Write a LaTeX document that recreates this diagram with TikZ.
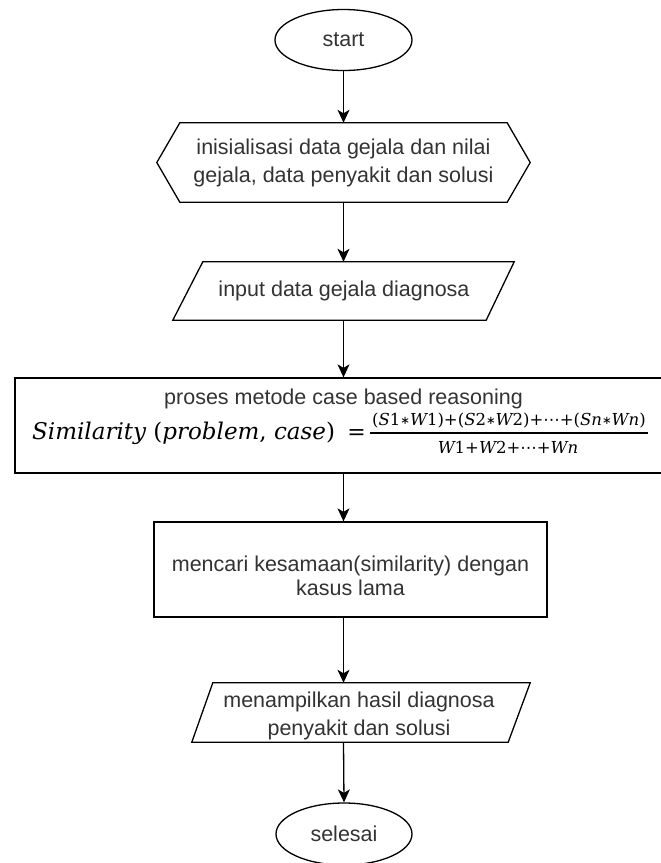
\documentclass[tikz,border=0pt]{standalone}
\usepackage{fontspec}
\setmainfont{Liberation Sans}
\newfontfamily\fser{DejaVu Serif}
\newfontfamily\fdvs{DejaVu Sans}
\usetikzlibrary{arrows.meta,shapes.geometric,calc}
\definecolor{txt}{HTML}{333333}
\newcommand{\mvar}[1]{{\itshape #1}}
\newcommand{\mast}{{\fdvs\fontsize{11.5}{12}\selectfont\raisebox{1pt}{∗}}}
\newcommand{\mdots}{{\fdvs ⋯}}
\begin{document}
\begin{tikzpicture}[x=1pt,y=-1pt,
  lbl/.style={font=\fontsize{21.5}{28}\selectfont, text=txt, align=center, inner sep=0pt},
  shp/.style={draw=black, line width=1.3pt},
  flow/.style={draw=black, line width=1.3pt, -{Stealth[length=13pt,width=12pt,inset=3.5pt]}},
  frm/.style={inner sep=0pt, text=black}]
\useasboundingbox (0,0) rectangle (661,863);
\fill[white] (0,0) rectangle (661,863);

% start
\node[shp, ellipse, lbl, minimum width=137pt, minimum height=61pt] (st) at (343.5,40) {start};

% hexagon
\node[lbl, minimum width=373pt, minimum height=79pt] (hx) at (343.5,162.5) {inisialisasi data gejala dan nilai\\gejala, data penyakit dan solusi};
\draw[shp] (hx.west) -- ($(hx.north west)+(23,0)$) -- ($(hx.north east)+(-23,0)$) -- (hx.east) -- ($(hx.south east)+(-23,0)$) -- ($(hx.south west)+(23,0)$) -- cycle;

% input
\node[lbl, minimum width=312pt, minimum height=58pt] (inp) at (344,291) {input data gejala diagnosa};
\draw[shp] ($(inp.north west)+(15,0)$) -- ($(inp.north east)+(14,0)$) -- ($(inp.south east)+(-14,0)$) -- ($(inp.south west)+(-15,0)$) -- cycle;

% process
\node[shp, rectangle, inner sep=0pt, minimum width=660pt, minimum height=95pt] (pr) at (345,425.5) {};
\node[lbl, anchor=base] (prt) at (343.5,404) {proses metode case based reasoning};
\node[frm, anchor=base west, font=\fser\fontsize{23}{26}\selectfont] (flhs) at (32,439) {\mvar{Similarity} (\mvar{problem}, \mvar{case})};
\node[frm, anchor=base, font=\fser\fontsize{22}{24}\selectfont] (feq) at (356.5,439) {=};
\node[frm, anchor=base, font=\fser\fontsize{16.5}{18}\selectfont] (fnum) at (509,425) {(\mvar{S}1\mast\mvar{W}1)+(\mvar{S}2\mast\mvar{W}2)+\mdots+(\mvar{Sn}\mast\mvar{Wn})};
\node[frm, anchor=base, font=\fser\fontsize{16.5}{18}\selectfont] (fden) at (508,453) {\mvar{W}1+\mvar{W}2+\mdots+\mvar{Wn}};
\coordinate (fb1) at (370,433);
\coordinate (fb2) at (648,433);
\draw[line width=1.1pt] (fb1) -- (fb2);

% mencari
\node[shp, rectangle, inner sep=0pt, minimum width=393pt, minimum height=95pt] (mc) at (350.5,569.5) {};
\node[lbl, font=\fontsize{21.5}{24.5}\selectfont] (mct) at (350.5,576) {mencari kesamaan(similarity) dengan\\kasus lama};

% output
\node[inner sep=0pt, minimum width=316.5pt, minimum height=59pt] (out) at (360.75,712.5) {};
\draw[shp] ($(out.north west)+(10.5,0)$) -- ($(out.north east)+(11,0)$) -- ($(out.south east)+(-11,0)$) -- ($(out.south west)+(-10.5,0)$) -- cycle;
\node[lbl] (outt) at (359,716) {menampilkan hasil diagnosa\\penyakit dan solusi};

% selesai
\node[shp, ellipse, lbl, minimum width=136pt, minimum height=62pt] (en) at (344,834) {selesai};

% connectors
\draw[flow] (st.south) -- (st.south |- hx.north);
\draw[flow] (hx.south -| st.south) -- (inp.north -| st.south);
\draw[flow] (inp.south -| st.south) -- (pr.north -| st.south);
\draw[flow] (pr.south -| st.south) -- (mc.north -| st.south);
\draw[flow] (mc.south -| st.south) -- (out.north -| st.south);
\draw[flow] (out.south -| st.south) -- (en.north);
\end{tikzpicture}
\end{document}
